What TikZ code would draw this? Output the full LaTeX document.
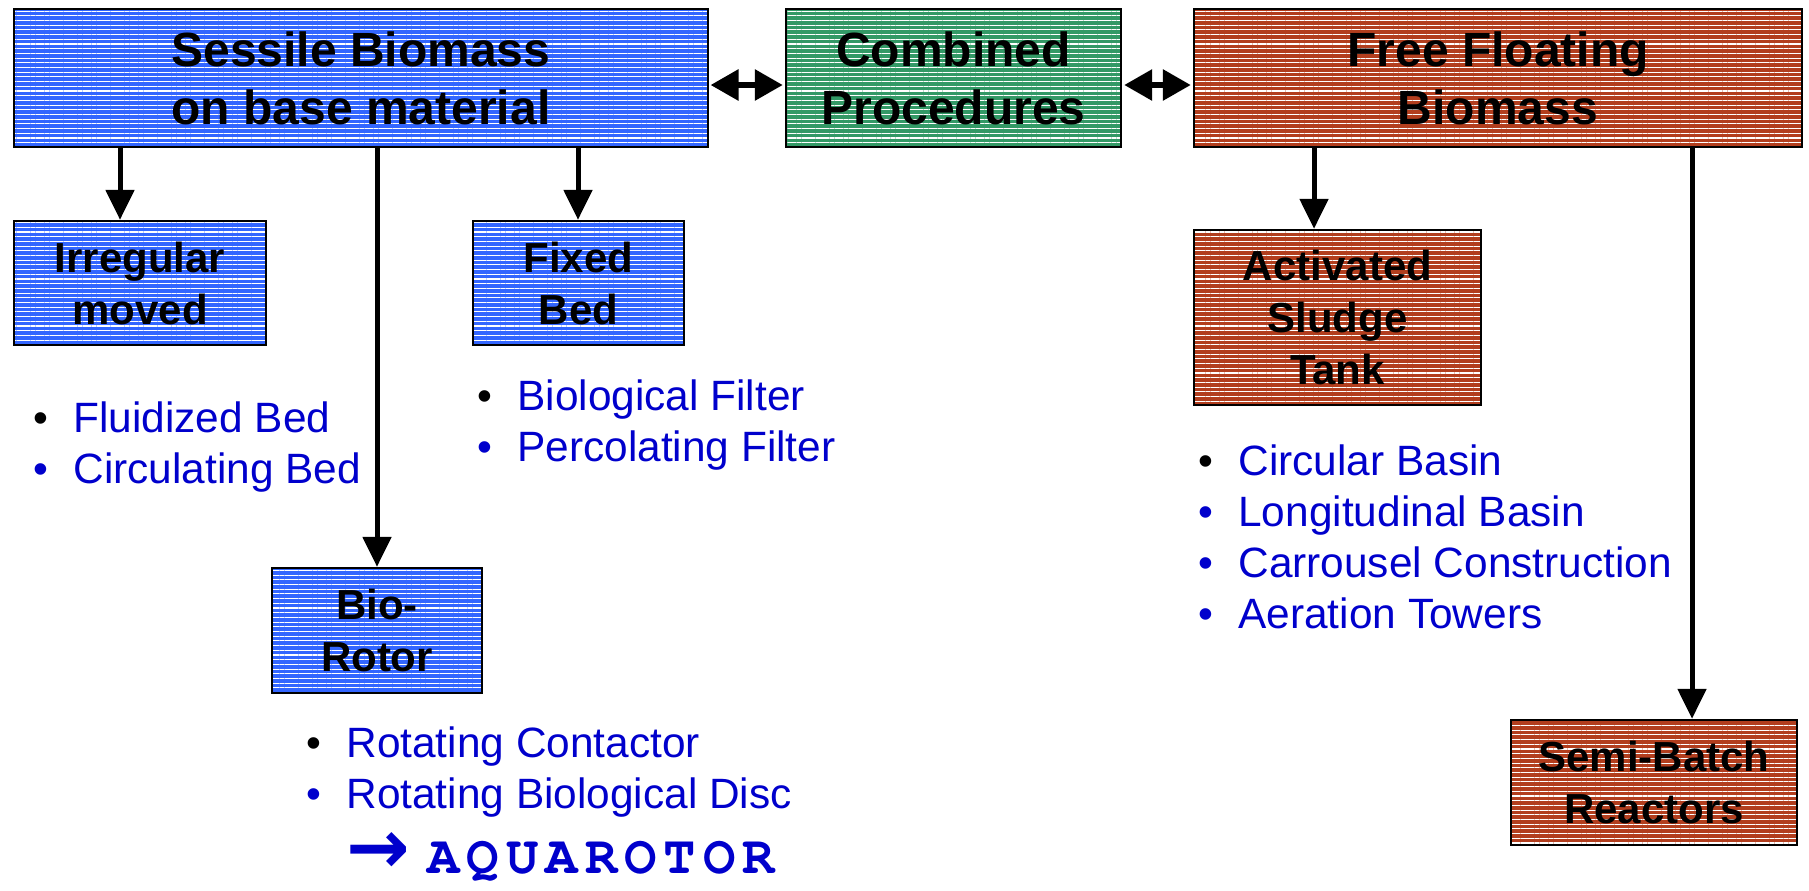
\documentclass[tikz,border=0pt]{standalone}
\usepackage{fontspec}
\setmainfont{Liberation Sans}
\newfontfamily\typewriter[LetterSpace=13]{TeX Gyre Cursor}
\newfontfamily\symbolfont{DejaVu Sans}
\usetikzlibrary{arrows.meta,patterns.meta,positioning}
\definecolor{sessileblue}{RGB}{51,102,255}
\definecolor{combgreen}{RGB}{51,153,102}
\definecolor{floatred}{RGB}{178,62,30}
\definecolor{itemblue}{RGB}{0,0,204}
\newcommand{\bul}[1]{\makebox[20pt][l]{\textcolor{#1}{\textbullet}}}
\tikzset{%
  box/.style={draw=black,line width=1.2pt,rectangle,inner sep=0pt,align=center,
    text=black,font=\bfseries\fontsize{21}{26}\selectfont,
    pattern={Lines[angle=0,distance=2.35pt,line width=0.55pt]},pattern color=white},
  topbox/.style={box,font=\bfseries\fontsize{24}{29}\selectfont,minimum height=69pt},
  blue box/.style={preaction={fill=sessileblue}},
  green box/.style={preaction={fill=combgreen}},
  red box/.style={preaction={fill=floatred}},
  link/.style={line width=3pt,shorten <=1pt,shorten >=1pt,
    {Triangle[length=14pt,width=15pt]}-{Triangle[length=14pt,width=15pt]}},
  down/.style={line width=2.5pt,-{Triangle[length=15pt,width=14pt]}},
  items/.style={anchor=base west,inner sep=0pt,text=itemblue,
    font=\fontsize{21.2}{25.5}\selectfont}
}
\begin{document}
\begin{tikzpicture}[x=0.5pt,y=-0.5pt]
  \useasboundingbox (0,0) rectangle (1809,890);
  % main groups
  \node[topbox,blue box,minimum width=347pt] (sessile) at (361,78)
    {Sessile Biomass\\on base material};
  \node[topbox,green box,minimum width=167.5pt] (combined) at (953.5,78)
    {Combined\\Procedures};
  \node[topbox,red box,minimum width=304pt] (free) at (1498,78)
    {Free Floating\\Biomass};
  % sub groups
  \node[box,blue box,minimum width=126pt,minimum height=62pt] (irregular) at (140,283)
    {Irregular\\moved};
  \node[box,blue box,minimum width=105.5pt,minimum height=62pt] (fixed) at (578.5,283)
    {Fixed\\Bed};
  \node[box,blue box,minimum width=105pt,minimum height=62.5pt] (biorotor) at (377,630.5)
    {Bio-\\Rotor};
  \node[box,red box,minimum width=143.5pt,minimum height=87.5pt] (activated) at (1337.5,317.5)
    {Activated\\Sludge\\Tank};
  \node[box,red box,minimum width=143pt,minimum height=62.5pt] (semibatch) at (1654,782.5)
    {Semi-Batch\\Reactors};
  % connectors
  \draw[link] ([yshift=-3.5pt]sessile.east) -- ([yshift=-3.5pt]combined.west);
  \draw[link] ([yshift=-3.5pt]combined.east) -- ([yshift=-3.5pt]free.west);
  \coordinate (xirr) at (120,0);
  \coordinate (xfix) at (578,0);
  \coordinate (xrot) at (377,0);
  \coordinate (xact) at (1314,0);
  \coordinate (xsemi) at (1692,0);
  \draw[down] (sessile.south -| xirr) -- (irregular.north -| xirr);
  \draw[down] (sessile.south -| xfix) -- (fixed.north -| xfix);
  \draw[down] (sessile.south -| xrot) -- (biorotor.north -| xrot);
  \draw[down] (free.south -| xact) -- (activated.north -| xact);
  \draw[down] (free.south -| xsemi) -- (semibatch.north -| xsemi);
  % examples
  \node[items] (irrlist) at (33,432) {\begin{tabular}[t]{@{}l@{}}
    \bul{black}Fluidized Bed\\ \bul{itemblue}Circulating Bed\end{tabular}};
  \node[items] (fixlist) at (477,410) {\begin{tabular}[t]{@{}l@{}}
    \bul{black}Biological Filter\\ \bul{itemblue}Percolating Filter\end{tabular}};
  \node[items] (rotlist) at (306,757) {\begin{tabular}[t]{@{}l@{}}
    \bul{black}Rotating Contactor\\ \bul{itemblue}Rotating Biological Disc\end{tabular}};
  \node[items] (aquarotor) at (346,873)
    {\makebox[40.5pt][l]{\symbolfont\bfseries\fontsize{38}{38}\selectfont →}%
     {\typewriter\bfseries\fontsize{27}{27}\selectfont AQUAROTOR}};
  \node[items] (actlist) at (1198,475) {\begin{tabular}[t]{@{}l@{}}
    \bul{black}Circular Basin\\ \bul{itemblue}Longitudinal Basin\\
    \bul{itemblue}Carrousel Construction\\ \bul{itemblue}Aeration Towers\end{tabular}};
\end{tikzpicture}
\end{document}
